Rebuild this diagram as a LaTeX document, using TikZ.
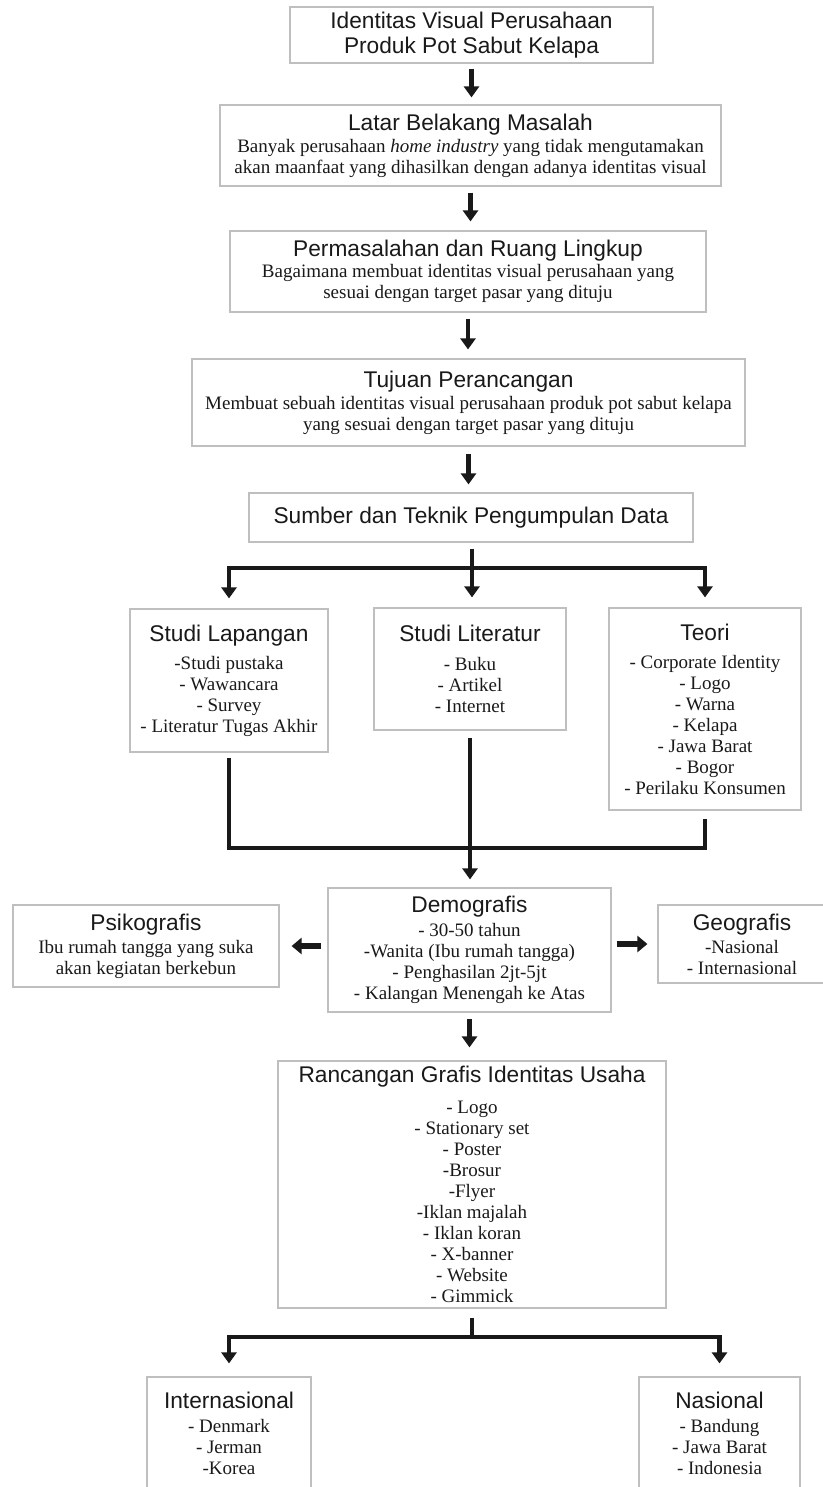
\documentclass[tikz,border=0pt]{standalone}
\usepackage{fontspec}
\setmainfont{Liberation Serif}
\setsansfont{Liberation Sans}
\usetikzlibrary{arrows.meta,positioning}

\newcommand{\ttl}[1]{{\sffamily\fontsize{22.7}{25}\selectfont #1}}

\begin{document}
\begin{tikzpicture}[
		x = 1pt, y = -1pt,
		> = {Triangle[length=11pt,width=15pt]},
		box/.style = {draw=black!25, line width=1.2pt, align=center, inner sep=0pt,
			text=black!90, font=\fontsize{19}{21}\selectfont},
		flow/.style = {->, line width=4.4pt, black!90},
		side/.style = {->, line width=5.5pt, black!90, > = {Triangle[length=10pt,width=16pt]}},
		link/.style = {line width=4.4pt, black!90}
		]
		\useasboundingbox (0,0) rectangle (822,1487);
		\node[box, minimum width=363pt, minimum height=56pt, font=\sffamily\fontsize{22.7}{25}\selectfont] (judul) at (471.5,35) {Identitas Visual Perusahaan\\Produk Pot Sabut Kelapa};
		\node[box, minimum width=501pt, minimum height=81pt] (latar) at (470.5,145.5) {\ttl{Latar Belakang Masalah}\\[1pt]
			Banyak perusahaan \textit{home industry} yang tidak mengutamakan\\
			akan maanfaat yang dihasilkan dengan adanya identitas visual};
		\node[box, minimum width=476pt, minimum height=81pt] (masalah) at (468,271.5) {\ttl{Permasalahan dan Ruang Lingkup}\\
			Bagaimana membuat identitas visual perusahaan yang\\
			sesuai dengan target pasar yang dituju};
		\node[box, minimum width=553pt, minimum height=87pt] (tujuan) at (468.5,402.5) {\ttl{Tujuan Perancangan}\\[1pt]
			Membuat sebuah identitas visual perusahaan produk pot sabut kelapa\\
			yang sesuai dengan target pasar yang dituju};
		\node[box, minimum width=444pt, minimum height=49pt] (sumber) at (471,517.5) {\ttl{Sumber dan Teknik Pengumpulan Data}};
		\node[box, minimum width=198pt, minimum height=143pt] (lapangan) at (229,680.5) {\ttl{Studi Lapangan}\\[7pt]
			-Studi pustaka\\ - Wawancara\\ - Survey\\ - Literatur Tugas Akhir};
		\node[box, minimum width=192pt, minimum height=122pt] (literatur) at (470,669) {\ttl{Studi Literatur}\\[8pt]
			- Buku\\ - Artikel\\ - Internet};
		\node[box, minimum width=192pt, minimum height=202pt] (teori) at (705,709) {\ttl{Teori}\\[7pt]
			- Corporate Identity\\ - Logo\\ - Warna\\ - Kelapa\\ - Jawa Barat\\ - Bogor\\ - Perilaku Konsumen};
		\node[box, minimum width=283pt, minimum height=124pt] (demografis) at (469.5,950) {\ttl{Demografis}\\[3pt]
			- 30-50 tahun\\ -Wanita (Ibu rumah tangga)\\ - Penghasilan 2jt-5jt\\ - Kalangan Menengah ke Atas};
		\node[box, minimum width=266pt, minimum height=82pt] (psikografis) at (146,946) {\ttl{Psikografis}\\[2pt]
			Ibu rumah tangga yang suka\\ akan kegiatan berkebun};
		\node[box, minimum width=168pt, minimum height=78pt] (geografis) at (742,944) {\ttl{Geografis}\\[2pt]
			-Nasional\\ - Internasional};
		\node[box, minimum width=388pt, minimum height=247pt] (rancangan) at (472,1184.5) {\ttl{Rancangan Grafis Identitas Usaha}\\[10pt]
			- Logo\\ - Stationary set\\ - Poster\\ -Brosur\\ -Flyer\\ -Iklan majalah\\ - Iklan koran\\ - X-banner\\ - Website\\ - Gimmick};
		\node[box, minimum width=164pt, minimum height=112pt] (internasional) at (229,1433) {\ttl{Internasional}\\[3pt]
			- Denmark\\ - Jerman\\ -Korea};
		\node[box, minimum width=161pt, minimum height=112pt] (nasional) at (719.5,1433) {\ttl{Nasional}\\[3pt]
			- Bandung\\ - Jawa Barat\\ - Indonesia};
		\coordinate (cabang) at (472,568);
		\coordinate (gabung) at (470,848);
		\coordinate (cabang2) at (472,1337);
		% alur utama
		\draw[flow] ([yshift=-5pt]judul.south) -- ([yshift=7pt]judul.south |- latar.north);
		\draw[flow] ([yshift=-6pt]latar.south) -- ([yshift=9pt]latar.south |- masalah.north);
		\draw[flow] ([yshift=-6pt]masalah.south) -- ([yshift=9pt]masalah.south |- tujuan.north);
		\draw[flow] ([yshift=-7pt]tujuan.south) -- ([yshift=8pt]tujuan.south |- sumber.north);
		% cabang ke studi
		\draw[link] ([yshift=-6pt]cabang |- sumber.south) -- (cabang);
		\draw[flow] (cabang) -| ([yshift=10pt]lapangan.north);
		\draw[flow] (cabang) -- ([yshift=10pt]cabang |- literatur.north);
		\draw[flow] (cabang) -| ([yshift=10pt]teori.north);
		% gabung ke demografis
		\draw[link] ([yshift=-5pt]lapangan.south) |- (gabung) -| ([yshift=-8pt]teori.south);
		\draw[flow] ([yshift=-7pt]literatur.south) -- ([yshift=8pt]literatur.south |- demografis.north);
		\draw[side] ([xshift=-6pt]demografis.west |- psikografis) -- ([xshift=12pt]psikografis.east);
		\draw[side] ([xshift=5pt]demografis.east |- geografis) -- ([xshift=-10pt]geografis.west);
		\draw[flow] ([yshift=-6pt]demografis.south) -- ([yshift=13pt]demografis.south |- rancangan.north);
		% cabang ke wilayah
		\draw[link] ([yshift=-9pt]cabang2 |- rancangan.south) -- (cabang2);
		\draw[flow] (cabang2) -| ([yshift=13pt]internasional.north);
		\draw[flow] (cabang2) -| ([yshift=13pt]nasional.north);
\end{tikzpicture}
\end{document}
